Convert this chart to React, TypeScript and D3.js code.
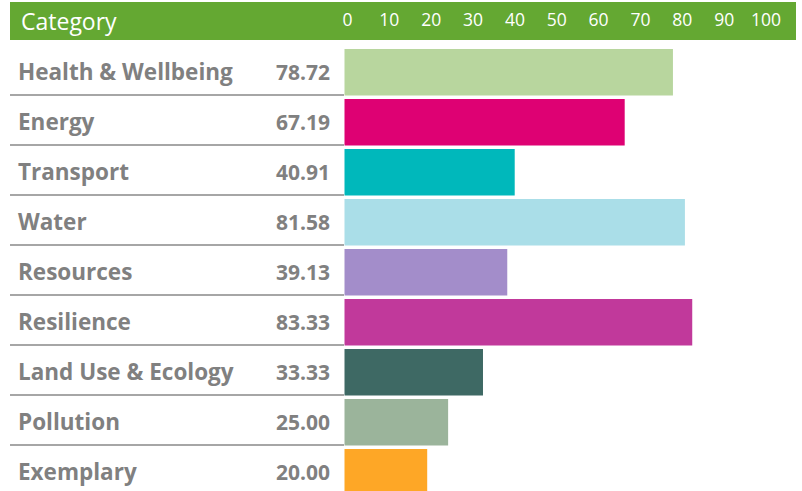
import { useEffect, useRef } from "react";
import * as d3 from "d3";

const categories = [
  "Health & Wellbeing",
  "Energy",
  "Transport",
  "Water",
  "Resources",
  "Resilience",
  "Land Use & Ecology",
  "Pollution",
  "Exemplary",
];
const scores = [78.72, 67.19, 40.91, 81.58, 39.13, 83.33, 33.33, 25.0, 20.0];
const barColors = [
  "#b8d69e",
  "#de0173",
  "#00b8bb",
  "#aadee8",
  "#a38dca",
  "#c1399b",
  "#3e6964",
  "#9bb49b",
  "#fea726",
];
const ticks = [0, 10, 20, 30, 40, 50, 60, 70, 80, 90, 100];

const App = () => {
  const ref = useRef<SVGSVGElement>(null);

  useEffect(() => {
    const w = 802;
    const h = 491;
    const font = "'Open Sans', 'DejaVu Sans', sans-serif";
    const svg = d3.select(ref.current).attr("width", w).attr("height", h);
    svg.selectAll("*").remove();

    const x = d3.scaleLinear().domain([0, 100]).range([343.5, 762]);
    const y = d3.scaleBand().domain(categories).range([45, 495]);

    // header band
    svg
      .append("rect")
      .attr("x", 10)
      .attr("y", 2)
      .attr("width", 786)
      .attr("height", 38)
      .attr("fill", "#64a832");

    svg
      .append("text")
      .attr("x", 21)
      .attr("y", 30)
      .attr("fill", "#fff")
      .style("font-family", font)
      .style("font-size", "23px")
      .text("Category");

    svg
      .selectAll(".tick-label")
      .data(ticks)
      .join("text")
      .attr("x", (d) => x(d) + 4)
      .attr("y", 26)
      .attr("text-anchor", "middle")
      .attr("fill", "#fff")
      .style("font-family", font)
      .style("font-size", "17.5px")
      .text((d) => d);

    const rows = svg
      .selectAll(".row")
      .data(categories)
      .join("g")
      .attr("transform", (d) => `translate(0,${y(d)})`);

    rows
      .append("rect")
      .attr("x", x(0) + 1)
      .attr("y", 4)
      .attr("width", (_, i) => x(scores[i]) - x(0) - 1)
      .attr("height", y.bandwidth() - 3.5)
      .attr("fill", (_, i) => barColors[i]);

    rows
      .append("text")
      .attr("x", 18)
      .attr("y", 35)
      .attr("fill", "#808080")
      .style("font-family", font)
      .style("font-weight", "700")
      .style("font-size", "22.5px")
      .text((d) => d);

    rows
      .append("text")
      .attr("x", 330)
      .attr("y", 35)
      .attr("text-anchor", "end")
      .attr("fill", "#808080")
      .style("font-family", font)
      .style("font-weight", "700")
      .style("font-size", "21px")
      .text((_, i) => scores[i].toFixed(2));

    rows
      .filter((_, i) => i < categories.length - 1)
      .append("line")
      .attr("x1", 10)
      .attr("x2", 344)
      .attr("y1", y.bandwidth())
      .attr("y2", y.bandwidth())
      .attr("stroke", "#888")
      .attr("stroke-width", 1.5);
  }, []);

  return (
    <svg
      ref={ref}
      style={{ position: "absolute", left: 0, top: 0, background: "#fff" }}
    ></svg>
  );
};

export default App;
